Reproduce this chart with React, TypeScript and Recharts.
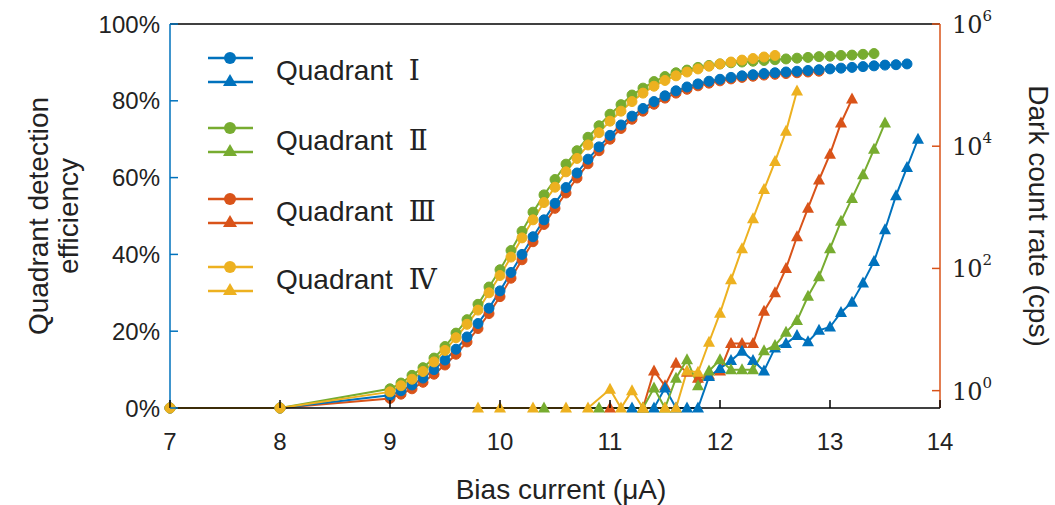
import React from 'react';
import { LineChart, Line, XAxis, YAxis, Legend } from 'recharts';

// bias current (µA) for the efficiency sweeps
const effCurrent = [
  7, 8,
  9.0, 9.1, 9.2, 9.3, 9.4, 9.5, 9.6, 9.7, 9.8, 9.9,
  10.0, 10.1, 10.2, 10.3, 10.4, 10.5, 10.6, 10.7, 10.8, 10.9,
  11.0, 11.1, 11.2, 11.3, 11.4, 11.5, 11.6, 11.7, 11.8, 11.9,
  12.0, 12.1, 12.2, 12.3, 12.4, 12.5, 12.6, 12.7, 12.8, 12.9,
  13.0, 13.1, 13.2, 13.3, 13.4, 13.5, 13.6, 13.7,
];

// detection efficiency (%)
const effQ1 = [
  0, 0,
  3.3, 4.5, 6, 7.8, 10, 12.5, 15.3, 18.5, 22, 26,
  30.5, 35.3, 40, 44.6, 49, 53.3, 57.4, 61.2, 64.8, 68,
  71, 73.7, 76, 78, 79.8, 81.3, 82.6, 83.6, 84.4, 85.1,
  85.6, 86.1, 86.5, 86.8, 87.1, 87.3, 87.5, 87.7, 87.9, 88.1,
  88.3, 88.5, 88.7, 88.9, 89.1, 89.3, 89.4, 89.6,
];
const effQ2 = [
  0, 0,
  5, 6.5, 8.5, 10.5, 13, 16, 19.5, 23, 27, 31.5,
  36, 41, 46, 51, 55.5, 59.5, 63.5, 67, 70.5, 73.5,
  76.5, 79, 81.5, 83.3, 85, 86.3, 87.3, 88, 88.7, 89.2,
  89.6, 89.9, 90.1, 90.3, 90.5, 90.7, 90.9, 91.1, 91.3, 91.5,
  91.6, 91.8, 91.9, 92.1, 92.3,
];
const effQ3 = [
  0, 0,
  2.5, 3.6, 5, 6.7, 8.8, 11.2, 14, 17.2, 20.7, 24.6,
  29, 33.8, 38.6, 43.3, 47.8, 52, 56, 59.9, 63.6, 67,
  70, 72.8, 75.2, 77.3, 79.1, 80.7, 82, 83, 83.9, 84.6,
  85.2, 85.7, 86.1, 86.4, 86.7, 86.9, 87.1, 87.3, 87.5, 87.7,
];
const effQ4 = [
  0, 0,
  4.2, 5.8, 7.5, 9.5, 12, 15, 18.3, 21.8, 25.5, 30,
  34.5, 39.3, 44.3, 49, 53.5, 57.5, 61.5, 65, 68.5, 71.7,
  74.7, 77.3, 79.8, 82, 83.8, 85.3, 86.5, 87.5, 88.3, 89,
  89.6, 90.1, 90.6, 91, 91.4, 91.8,
];

// dark count rate (cps); 0.52 = sits on the bottom of the log axis
const dcCurrentQ1 = [11.2, 11.4, 11.5, 11.6, 11.7, 11.8, 11.9, 12.0, 12.1, 12.2, 12.3, 12.4, 12.5, 12.6, 12.7, 12.8, 12.9, 13.0, 13.1, 13.2, 13.3, 13.4, 13.5, 13.6, 13.7, 13.8];
const dcQ1 = [0.52, 0.52, 1.1, 0.52, 0.52, 0.52, 1.7, 2.3, 3.1, 4.4, 3.1, 2.1, 5, 5.9, 8, 6.3, 9.7, 11, 19, 28, 58, 130, 430, 1550, 4500, 13000];

const dcCurrentQ2 = [10.4, 10.9, 11.3, 11.4, 11.5, 11.6, 11.7, 11.8, 11.9, 12.0, 12.1, 12.2, 12.3, 12.4, 12.5, 12.6, 12.7, 12.8, 12.9, 13.0, 13.1, 13.2, 13.3, 13.4, 13.5];
const dcQ2 = [0.52, 0.52, 0.52, 1.1, 0.52, 1.6, 3.2, 1.2, 2.1, 3.2, 2.2, 2.2, 2.2, 4.5, 5.5, 9, 14, 35, 73, 210, 590, 1400, 3400, 8900, 24000];

const dcCurrentQ3 = [11.0, 11.3, 11.4, 11.5, 11.6, 11.7, 11.8, 11.9, 12.0, 12.1, 12.2, 12.3, 12.4, 12.5, 12.6, 12.7, 12.8, 12.9, 13.0, 13.1, 13.2];
const dcQ3 = [0.52, 0.52, 2.1, 1.2, 2.8, 2.0, 1.6, 1.8, 2.1, 5.9, 5.9, 5.9, 20, 40, 100, 330, 970, 2800, 7400, 24000, 59000];

const dcCurrentQ4 = [9.8, 10.0, 10.3, 10.6, 10.8, 11.0, 11.1, 11.2, 11.3, 11.5, 11.6, 11.7, 11.8, 11.9, 12.0, 12.1, 12.2, 12.3, 12.4, 12.5, 12.6, 12.7];
const dcQ4 = [0.52, 0.52, 0.52, 0.52, 0.52, 1.05, 0.52, 1.0, 0.52, 0.52, 0.52, 2.1, 2.0, 6.2, 18.5, 65, 210, 650, 1950, 5600, 17500, 80000];

const xTicks = [7, 8, 9, 10, 11, 12, 13, 14];
const effTicks = [0, 20, 40, 60, 80, 100];
const dcTicks = [1, 100, 10000, 1000000];
const dcExponents = ['0', '2', '4', '6'];
const quadrantNames = ['Ⅰ', 'Ⅱ', 'Ⅲ', 'Ⅳ'];

const BLUE = '#0072BD';
const GREEN = '#77AC30';
const RED = '#D95319';
const YELLOW = '#EDB120';
const SANS = '"Liberation Sans", Arial, sans-serif';
const SERIF = '"DejaVu Serif", "Liberation Serif", serif';
const TICK_FS = 24;
const TITLE_FS = 28;

const pairs = (xs: number[], ys: number[]) => ys.map((y, i) => ({ x: xs[i], y }));

const triangle = (color: string) => (props: any) => {
  const { cx, cy, index } = props;
  if (cx == null || cy == null) return <g key={index} />;
  return (
    <path key={index} d={`M${cx},${cy - 6.5} L${cx + 6},${cy + 4.5} L${cx - 6},${cy + 4.5} Z`} fill={color} />
  );
};

const BottomTick = ({ x, y, payload }: any) => (
  <g>
    <line x1={x} x2={x} y1={y} y2={y - 8} stroke="#000" strokeWidth={1.5} />
    <text x={x} y={y + 33} textAnchor="middle" dominantBaseline="central" fontSize={TICK_FS} fontFamily={SANS} fill="#222">
      {payload.value}
    </text>
  </g>
);

const TopTick = ({ x, y }: any) => <line x1={x} x2={x} y1={y} y2={y + 8} stroke="#000" strokeWidth={1.5} />;

const LeftTick = ({ x, y, payload }: any) => (
  <g>
    <line x1={x} x2={x + 8} y1={y} y2={y} stroke={BLUE} strokeWidth={1.5} />
    <text x={x - 10} y={y} textAnchor="end" dominantBaseline="central" fontSize={TICK_FS} fontFamily={SANS} fill="#222">
      {payload.value}%
    </text>
  </g>
);

const RightTick = ({ x, y, index }: any) => (
  <g>
    <line x1={x} x2={x - 8} y1={y} y2={y} stroke={RED} strokeWidth={1.5} />
    <text x={x + 12} y={y + 9} fontSize={24} fontFamily={SERIF} fill="#222">
      10
      <tspan dy={-12} fontSize={15}>{dcExponents[index]}</tspan>
    </text>
  </g>
);

const LeftTitle = ({ viewBox }: any) => {
  const cy = viewBox.y + viewBox.height / 2;
  return (
    <g fontSize={TITLE_FS} fontFamily={SANS} fill="#222">
      <text x={38} y={cy} textAnchor="middle" dominantBaseline="central" transform={`rotate(-90 38 ${cy})`}>
        Quadrant detection
      </text>
      <text x={68} y={cy} textAnchor="middle" dominantBaseline="central" transform={`rotate(-90 68 ${cy})`}>
        efficiency
      </text>
    </g>
  );
};

const RightTitle = ({ viewBox }: any) => {
  const cy = viewBox.y + viewBox.height / 2;
  return (
    <text x={1038} y={cy} textAnchor="middle" dominantBaseline="central" transform={`rotate(90 1038 ${cy})`}
      fontSize={TITLE_FS} fontFamily={SANS} fill="#222">
      Dark count rate (cps)
    </text>
  );
};

const BottomTitle = ({ viewBox }: any) => (
  <text x={viewBox.x + viewBox.width / 2 + 6} y={489} textAnchor="middle" dominantBaseline="central"
    fontSize={TITLE_FS} fontFamily={SANS} fill="#222">
    Bias current (μA)
  </text>
);

const legendColors = [BLUE, GREEN, RED, YELLOW];
const legendRowY = [30, 100, 171, 239];

const LegendBox = () => (
  <svg width={280} height={270}>
    {legendColors.map((c, i) => {
      const cy = legendRowY[i];
      return (
        <g key={i}>
          <line x1={8} x2={53} y1={cy - 12} y2={cy - 12} stroke={c} strokeWidth={2.5} />
          <circle cx={30} cy={cy - 12} r={6} fill={c} />
          <line x1={8} x2={53} y1={cy + 12} y2={cy + 12} stroke={c} strokeWidth={2.5} />
          <path d={`M30,${cy + 4} L37,${cy + 16} L23,${cy + 16} Z`} fill={c} />
          <text x={76} y={cy} dominantBaseline="central" fontSize={TITLE_FS} fontFamily={SANS} fill="#222">
            Quadrant
            <tspan fontFamily={SERIF} dx={16}>{quadrantNames[i]}</tspan>
          </text>
        </g>
      );
    })}
  </svg>
);

export default function App() {
  const effSeries = [
    { data: pairs(effCurrent, effQ3), color: RED },
    { data: pairs(effCurrent, effQ1), color: BLUE },
    { data: pairs(effCurrent, effQ2), color: GREEN },
    { data: pairs(effCurrent, effQ4), color: YELLOW },
  ];
  const dcSeries = [
    { data: pairs(dcCurrentQ3, dcQ3), color: RED },
    { data: pairs(dcCurrentQ1, dcQ1), color: BLUE },
    { data: pairs(dcCurrentQ2, dcQ2), color: GREEN },
    { data: pairs(dcCurrentQ4, dcQ4), color: YELLOW },
  ];

  return (
    <div style={{ background: '#fff', width: 1055, height: 505 }}>
      <style>{'body{margin:0}'}</style>
      <LineChart width={1055} height={505} margin={{ top: 23, right: 0, bottom: 0, left: 0 }}>
        <XAxis xAxisId="bottom" dataKey="x" type="number" domain={[7, 14]} ticks={xTicks} height={97}
          axisLine={{ stroke: '#000', strokeWidth: 1.5 }} tickLine={false} tickSize={0} tickMargin={0}
          tick={<BottomTick />} label={<BottomTitle />} />
        <XAxis xAxisId="top" orientation="top" dataKey="x" type="number" domain={[7, 14]} ticks={xTicks} height={1}
          axisLine={{ stroke: '#000', strokeWidth: 1.5 }} tickLine={false} tickSize={0} tickMargin={0}
          tick={<TopTick />} />
        <YAxis yAxisId="left" type="number" domain={[0, 100]} ticks={effTicks} width={170}
          axisLine={{ stroke: BLUE, strokeWidth: 1.5 }} tickLine={false} tickSize={0} tickMargin={0}
          tick={<LeftTick />} label={<LeftTitle />} />
        <YAxis yAxisId="right" orientation="right" type="number" scale="log" domain={[0.52, 1000000]} ticks={dcTicks}
          width={115} axisLine={{ stroke: RED, strokeWidth: 1.5 }} tickLine={false} tickSize={0} tickMargin={0}
          tick={<RightTick />} label={<RightTitle />} />
        <Legend content={<LegendBox />} layout="horizontal" verticalAlign="middle" align="center"
          wrapperStyle={{ position: 'absolute', left: 200, top: 40, width: 280, height: 270 }} />
        {effSeries.map((s, i) => (
          <Line key={`eff-${i}`} xAxisId="bottom" yAxisId="left" data={s.data} dataKey="y" stroke={s.color}
            strokeWidth={2} dot={{ r: 5, fill: s.color, stroke: s.color, strokeWidth: 1 }} activeDot={false}
            isAnimationActive={false} />
        ))}
        {dcSeries.map((s, i) => (
          <Line key={`dc-${i}`} xAxisId="bottom" yAxisId="right" data={s.data} dataKey="y" stroke={s.color}
            strokeWidth={2} dot={triangle(s.color)} activeDot={false} isAnimationActive={false} />
        ))}
      </LineChart>
    </div>
  );
}
